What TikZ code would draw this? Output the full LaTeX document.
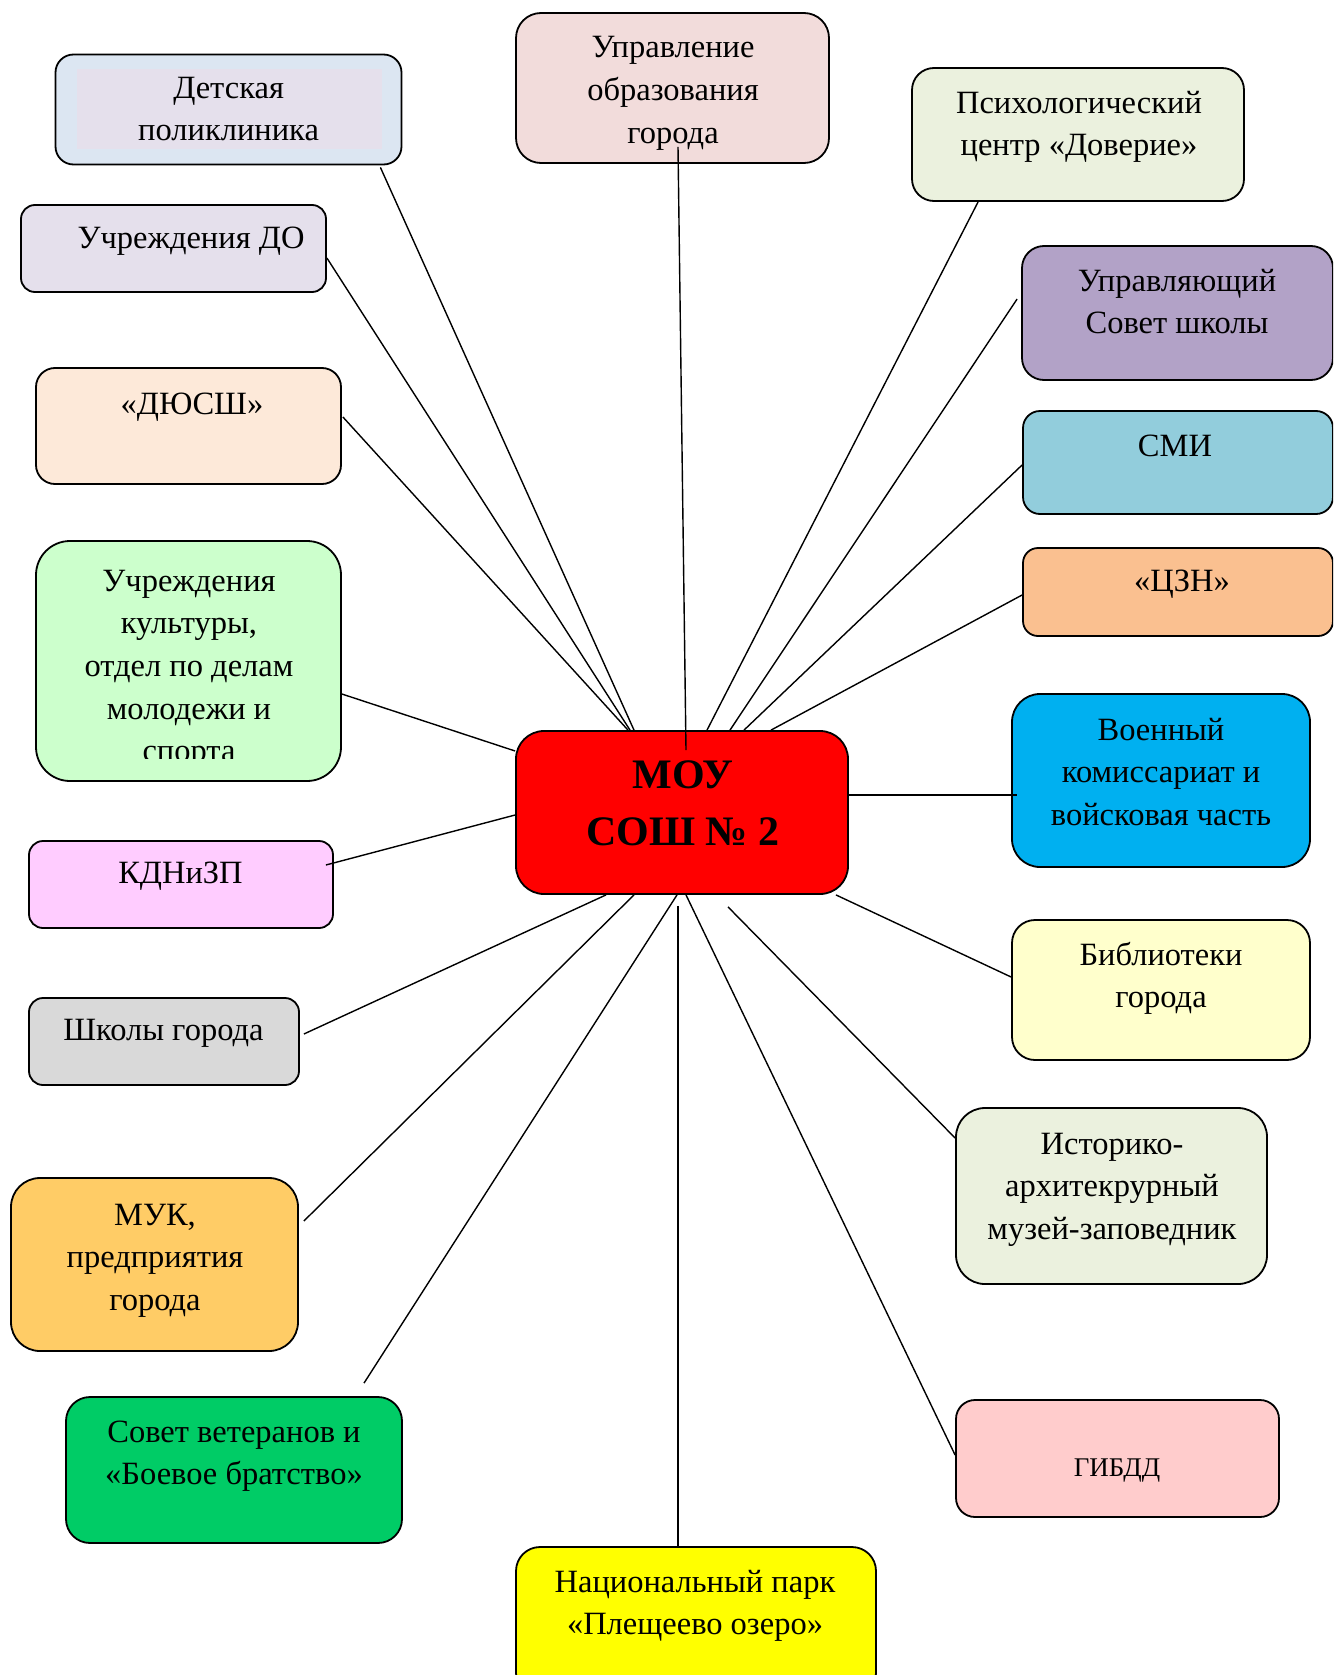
\documentclass[tikz,border=0pt]{standalone}
\usepackage{fontspec}
\setmainfont{Liberation Serif}
\usetikzlibrary{calc}
\definecolor{cDP}{HTML}{DCE6F2}
\definecolor{cDPin}{HTML}{E5E0EC}
\definecolor{cUPR}{HTML}{F2DCDB}
\definecolor{cPSY}{HTML}{EBF1DE}
\definecolor{cUDO}{HTML}{E5E0EC}
\definecolor{cUS}{HTML}{B2A2C7}
\definecolor{cDYU}{HTML}{FDE9D9}
\definecolor{cSMI}{HTML}{92CDDC}
\definecolor{cCZN}{HTML}{FAC090}
\definecolor{cKUL}{HTML}{CCFFCC}
\definecolor{cMOU}{HTML}{FF0000}
\definecolor{cVOEN}{HTML}{00B0F0}
\definecolor{cKDN}{HTML}{FFCCFF}
\definecolor{cSHK}{HTML}{D9D9D9}
\definecolor{cBIB}{HTML}{FFFFCC}
\definecolor{cIST}{HTML}{EBF1DE}
\definecolor{cMUK}{HTML}{FFCC66}
\definecolor{cSOV}{HTML}{00CC66}
\definecolor{cGIB}{HTML}{FFCCCC}
\definecolor{cNAC}{HTML}{FFFF00}
\begin{document}
\begin{tikzpicture}[x=1pt,y=-1pt,
  box/.style={draw=black,line width=1.8pt,rounded corners=#1,inner sep=0pt},
  box/.default=16pt,
  txt/.style={font=\fontsize{32.5}{42.7}\selectfont,align=center,anchor=base,inner sep=0pt},
  txtsmall/.style={font=\fontsize{27}{38}\selectfont,align=center,anchor=base,inner sep=0pt},
  txtbig/.style={font=\fontsize{42}{57}\selectfont\bfseries,align=center,anchor=base,inner sep=0pt},
  link/.style={draw=black,line width=1.4pt}]
\clip (0,0) rectangle (1333,1675);
\fill[white] (0,0) rectangle (1333,1675);

% boxes
\node[box=18pt,fill=cDP,minimum width=346pt,minimum height=110pt] (dp) at (228.5,109.5) {};
\fill[cDPin] (77,69) rectangle (382,149);
\node[box=25pt,fill=cUPR,minimum width=313pt,minimum height=150pt] (upr) at (672.5,88) {};
\node[box=22pt,fill=cPSY,minimum width=332pt,minimum height=133pt] (psy) at (1078,134.5) {};
\node[box=14pt,fill=cUDO,minimum width=305pt,minimum height=87pt] (udo) at (173.5,248.5) {};
\node[box=22pt,fill=cUS,minimum width=311pt,minimum height=134pt] (us) at (1177.5,313) {};
\node[box=19pt,fill=cDYU,minimum width=305pt,minimum height=116pt] (dyu) at (188.5,426) {};
\node[box=17pt,fill=cSMI,minimum width=310pt,minimum height=103pt] (smi) at (1178,462.5) {};
\node[box=15pt,fill=cCZN,minimum width=310pt,minimum height=88pt] (czn) at (1178,592) {};
\node[box=34pt,fill=cKUL,minimum width=305pt,minimum height=240pt] (kul) at (188.5,661) {};
\node[box=28pt,fill=cMOU,minimum width=332pt,minimum height=163pt] (mou) at (682,812.5) {};
\node[box=28pt,fill=cVOEN,minimum width=298pt,minimum height=173pt] (voen) at (1161,780.5) {};
\node[box=14pt,fill=cKDN,minimum width=304pt,minimum height=87pt] (kdn) at (181,884.5) {};
\node[box=14pt,fill=cSHK,minimum width=270pt,minimum height=87pt] (shk) at (164,1041.5) {};
\node[box=23pt,fill=cBIB,minimum width=298pt,minimum height=140pt] (bib) at (1161,990) {};
\node[box=29pt,fill=cIST,minimum width=311pt,minimum height=176pt] (ist) at (1111.5,1196) {};
\node[box=29pt,fill=cMUK,minimum width=287pt,minimum height=173pt] (muk) at (154.5,1264.5) {};
\node[box=24pt,fill=cSOV,minimum width=336pt,minimum height=146pt] (sov) at (234,1470) {};
\node[box=19pt,fill=cGIB,minimum width=323pt,minimum height=117pt] (gib) at (1117.5,1458.5) {};
\node[box=24pt,fill=cNAC,minimum width=360pt,minimum height=150pt] (nac) at (696,1622) {};

% texts (anchor = baseline of the last line)
\node[txt] (tdp) at (228.6,140.7) {Детская\\поликлиника};
\node[txt] (tupr) at (673,143.4) {Управление\\образования\\города};
\node[txt] (tpsy) at (1079,155.7) {Психологический\\центр «Доверие»};
\node[txt] (tudo) at (191,248) {Учреждения ДО};
\node[txt] (tus) at (1177,333.7) {Управляющий\\Совет школы};
\node[txt] (tdyu) at (192,414) {«ДЮСШ»};
\node[txt] (tsmi) at (1175,456) {СМИ};
\node[txt] (tczn) at (1182,591) {«ЦЗН»};
\begin{scope}
\clip (36,541) rectangle (341,758);
\node[txt] (tkul) at (189,761.8) {Учреждения\\культуры,\\отдел по делам\\молодежи и\\спорта};
\end{scope}
\node[txtbig] (tmou) at (683,845) {МОУ\\СОШ № 2};
\node[txt] (tvoen) at (1161,825.4) {Военный\\комиссариат и\\войсковая часть};
\node[txt] (tkdn) at (180.5,883) {КДНиЗП};
\node[txt] (tshk) at (163.4,1040) {Школы города};
\node[txt] (tbib) at (1161,1007.7) {Библиотеки\\города};
\node[txt] (tist) at (1112,1239.4) {Историко-\\архитекрурный\\музей-заповедник};
\node[txt] (tmuk) at (155,1310.4) {МУК,\\предприятия\\города};
\node[txt] (tsov) at (234,1484.7) {Совет ветеранов и\\«Боевое братство»};
\node[txtsmall] (tgib) at (1117,1476) {ГИБДД};
\node[txt] (tnac) at (695,1634.7) {Национальный парк\\«Плещеево озеро»};

% connectors
\draw[link] ($(dp.south east)+(-22,2)$) -- ($(mou.north)+(-48,0)$);
\draw[link] ($(upr.south)+(5.5,-17)$) -- ($(mou.north)+(4,20)$);
\draw[link] ($(psy.south west)+(67,0)$) -- ($(mou.north)+(25,0)$);
\draw[link] ($(udo.east)+(0,9.5)$) -- ($(mou.north)+(-52,0)$);
\draw[link] ($(us.west)+(-4,-14)$) -- ($(mou.north)+(48,0)$);
\draw[link] ($(dyu.east)+(1,-9)$) -- ($(mou.north)+(-54,0)$);
\draw[link] ($(smi.west)+(0,2.5)$) -- ($(mou.north)+(62,0)$);
\draw[link] ($(czn.west)+(0,3)$) -- ($(mou.north)+(89,0)$);
\draw[link] ($(kul.east)+(0,33)$) -- ($(mou.west)+(0,-61.5)$);
\draw[link] ($(mou.east)+(0,-17.5)$) -- ($(voen.west)+(6,14.5)$);
\draw[link] ($(kdn.east)+(-8,-19.5)$) -- ($(mou.west)+(0,2.5)$);
\draw[link] ($(shk.east)+(4,-7.5)$) -- ($(mou.south)+(-76,0)$);
\draw[link] ($(mou.south east)+(-13,0)$) -- ($(bib.west)+(0,-13)$);
\draw[link] ($(mou.south)+(46,12)$) -- ($(ist.west)+(0,-58)$);
\draw[link] ($(muk.east)+(5,-43.5)$) -- ($(mou.south)+(-48,0)$);
\draw[link] ($(sov.north)+(130,-13)$) -- ($(mou.south)+(-5,0)$);
\draw[link] ($(mou.south)+(4,0)$) -- ($(gib.west)+(0,-3.5)$);
\draw[link] ($(mou.south)+(-4,11)$) -- ($(nac.north)+(-18,0)$);
\end{tikzpicture}
\end{document}
